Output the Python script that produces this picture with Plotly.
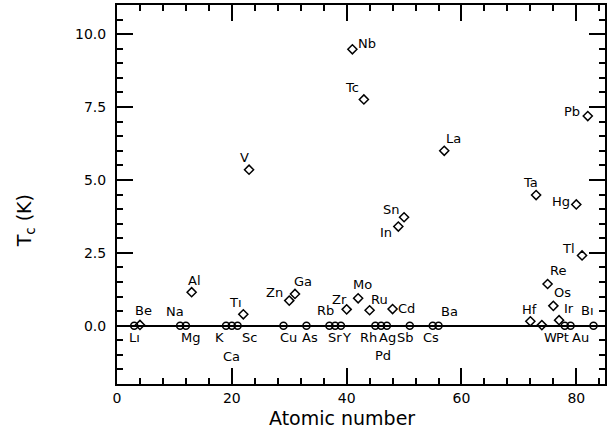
import plotly.graph_objects as go

# Superconducting elements (diamonds)
sc_names = ["Be", "Al", "Ti", "V", "Zn", "Ga", "Zr", "Nb", "Mo", "Tc", "Ru", "Cd",
            "In", "Sn", "La", "Hf", "Ta", "W", "Re", "Os", "Ir", "Hg", "Tl", "Pb"]
sc_z = [4, 13, 22, 23, 30, 31, 40, 41, 42, 43, 44, 48,
        49, 50, 57, 72, 73, 74, 75, 76, 77, 80, 81, 82]
sc_tc = [0.026, 1.15, 0.39, 5.35, 0.86, 1.09, 0.56, 9.48, 0.94, 7.76, 0.53, 0.57,
         3.40, 3.72, 6.0, 0.15, 4.48, 0.02, 1.43, 0.68, 0.19, 4.16, 2.41, 7.19]

# Non-superconducting elements (circles at Tc = 0)
ns_names = ["Li", "Na", "Mg", "K", "Ca", "Sc", "Cu", "As", "Rb", "Sr", "Y",
            "Rh", "Pd", "Ag", "Sb", "Cs", "Ba", "Pt", "Au", "Bi"]
ns_z = [3, 11, 12, 19, 20, 21, 29, 33, 37, 38, 39,
        45, 46, 47, 51, 55, 56, 78, 79, 83]
ns_tc = [0.0] * len(ns_z)

x_ticks = [0, 20, 40, 60, 80]
y_ticks = [0.0, 2.5, 5.0, 7.5, 10.0]
y_tick_labels = ["0.0", "2.5", "5.0", "7.5", "10.0"]

# Label placement (pixel offsets from each marker; style, not data)
label_offsets = {
    "Li": (0, -12), "Be": (4, 14), "Na": (-5, 14), "Mg": (5, -12), "Al": (3, 12),
    "K": (-7, -12), "Ca": (0, -31), "Sc": (12, -12), "Ti": (-8, 12), "V": (-5, 12),
    "Zn": (-15, 8), "Ga": (8, 12), "Cu": (5, -12), "As": (4, -12), "Rb": (-4, 15),
    "Sr": (0, -12), "Y": (6, -12), "Zr": (-7, 10), "Nb": (15, 6), "Mo": (4, 14),
    "Tc": (-12, 12), "Ru": (10, 11), "Rh": (-7, -12), "Pd": (2, -30), "Ag": (1, -12),
    "Sb": (-4, -12), "Cd": (14, 1), "In": (-12, -6), "Sn": (-13, 8), "Cs": (-2, -12),
    "Ba": (11, 14), "La": (9, 12), "Hf": (-1, 12), "Ta": (-6, 13), "W": (9, -12),
    "Pt": (-2, -12), "Au": (10, -12), "Re": (10, 14), "Os": (9, 13), "Ir": (10, 12),
    "Bi": (-6, 15), "Hg": (-15, 3), "Tl": (-14, 7), "Pb": (-16, 5),
}
label_display = {"Li": "L\u0131", "Ti": "T\u0131", "Bi": "B\u0131"}

fig = go.Figure()
fig.add_trace(go.Scatter(
    x=ns_z, y=ns_tc, mode="markers",
    marker=dict(symbol="circle-open", size=7, color="black", line=dict(width=1.5)),
    showlegend=False, hoverinfo="skip"))
fig.add_trace(go.Scatter(
    x=sc_z, y=sc_tc, mode="markers",
    marker=dict(symbol="diamond-open", size=7, color="black", line=dict(width=1.5)),
    showlegend=False, hoverinfo="skip"))

annotations = []
for names, zs, tcs in ((ns_names, ns_z, ns_tc), (sc_names, sc_z, sc_tc)):
    for n, z, t in zip(names, zs, tcs):
        dx, dy = label_offsets[n]
        annotations.append(dict(
            x=z, y=t, xref="x", yref="y", text=label_display.get(n, n),
            showarrow=False, xshift=dx, yshift=dy,
            font=dict(family="DejaVu Sans", size=13, color="black"),
            xanchor="center", yanchor="middle"))

annotations.append(dict(
    x=0.461, y=-0.09, xref="paper", yref="paper", text="Atomic number",
    showarrow=False, font=dict(family="DejaVu Sans", size=19, color="black"),
    xanchor="center", yanchor="middle"))
annotations.append(dict(
    x=-0.188, y=0.43, xref="paper", yref="paper", text="T<sub>c</sub> (K)",
    showarrow=False, textangle=-90,
    font=dict(family="DejaVu Sans", size=19, color="black"),
    xanchor="center", yanchor="middle"))

axis_common = dict(
    showgrid=False, showline=True, linecolor="black", linewidth=2,
    mirror="ticks", ticks="inside", tickcolor="black", tickwidth=1.5, ticklen=16,
    tickfont=dict(family="DejaVu Sans", size=14, color="black"),
)

fig.update_layout(
    width=608, height=439,
    margin=dict(l=117, r=1, t=5, b=55),
    paper_bgcolor="white", plot_bgcolor="white",
    xaxis=dict(range=[0, 85], tickvals=x_ticks,
               minor=dict(dtick=4, tick0=0, ticks="inside", ticklen=6,
                          tickcolor="black", tickwidth=1.5),
               zeroline=False, **axis_common),
    yaxis=dict(range=[-2, 11], tickvals=y_ticks, ticktext=y_tick_labels,
               minor=dict(dtick=0.5, tick0=0, ticks="inside", ticklen=6,
                          tickcolor="black", tickwidth=1.5),
               zeroline=True, zerolinecolor="black", zerolinewidth=1.5,
               ticklabelstandoff=6, **axis_common),
    annotations=annotations,
)

fig.write_html(
    "out.html",
    config={"displayModeBar": False},
    post_script="document.body.style.margin='0';document.body.style.overflow='hidden';",
)
